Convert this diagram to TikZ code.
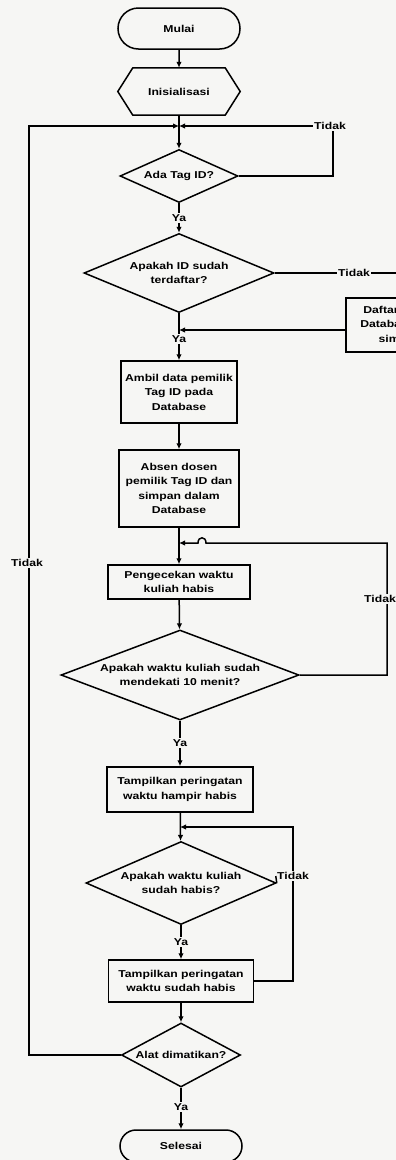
\documentclass[tikz,border=0pt]{standalone}
\usepackage{fontspec}
\setmainfont[FakeStretch=1.22]{Liberation Sans}
\usetikzlibrary{shapes.geometric,shapes.misc,arrows.meta}
\definecolor{paper}{HTML}{F6F6F4}
\begin{document}
\begin{tikzpicture}[x=1pt,y=-1pt,
  every node/.style={font=\fontsize{10}{14.5}\selectfont\bfseries, align=center, inner sep=0pt},
  line/.style={line width=1.5pt},
  arr/.style={line width=1.5pt, -{Latex[length=6pt,width=5.5pt]}},
  proc/.style={draw, line width=1.5pt, rectangle},
  term/.style={draw, line width=1.5pt, rounded rectangle, minimum width=122pt},
  dec/.style={draw, line width=1.5pt, diamond},
  lbl/.style={fill=paper, inner sep=1.2pt}]
\useasboundingbox (0,0) rectangle (396,1160);
\clip (0,0) rectangle (396,1160);
\fill[paper] (0,0) rectangle (396,1160);

% nodes
\node[term, minimum height=41pt] (mulai) at (179,28.5) {Mulai};
\node[minimum width=122pt, minimum height=47pt] (ini) at (179,91.5) {Inisialisasi};
\draw[line] (ini.west) -- ([xshift=15pt]ini.north west) -- ([xshift=-15pt]ini.north east)
  -- (ini.east) -- ([xshift=-15pt]ini.south east) -- ([xshift=15pt]ini.south west) -- cycle;
\coordinate (j1) at (179,126);
\node[dec, minimum width=118pt, minimum height=53pt, aspect=2.23] (d1) at (179,176) {Ada Tag ID?};
\node[dec, minimum width=190pt, minimum height=79pt, aspect=2.4] (d2) at (179,273) {Apakah ID sudah\\terdaftar?};
\node[proc, minimum width=108pt, minimum height=54pt] (daftar) at (400,325) {Daftarkan ke\\Database dan\\simpan};
\coordinate (j2) at (179,330);
\node[proc, minimum width=116pt, minimum height=62pt] (b1) at (179,392) {Ambil data pemilik\\Tag ID pada\\Database};
\node[proc, minimum width=120pt, minimum height=77pt] (b2) at (179,488.5) {Absen dosen\\pemilik Tag ID dan\\simpan dalam\\Database};
\coordinate (j3) at (179,543);
\node[proc, minimum width=142pt, minimum height=34pt] (b3) at (179,582) {Pengecekan waktu\\kuliah habis};
\node[dec, minimum width=238pt, minimum height=90pt, aspect=2.64] (d3) at (180,675) {Apakah waktu kuliah sudah\\mendekati 10 menit?};
\node[proc, minimum width=146pt, minimum height=45pt] (b4) at (180,789.5) {Tampilkan peringatan\\waktu hampir habis};
\coordinate (j4) at (180,827);
\node[dec, minimum width=190pt, minimum height=83pt, aspect=2.29] (d4) at (181,883) {Apakah waktu kuliah\\sudah habis?};
\node[proc, minimum width=145pt, minimum height=42pt] (b5) at (181,981) {Tampilkan peringatan\\waktu sudah habis};
\node[dec, minimum width=119pt, minimum height=64pt, aspect=1.86] (d5) at (181,1055) {Alat dimatikan?};
\node[term, minimum height=32pt] (sel) at (181,1146) {Selesai};

% connectors
\draw[arr] (mulai) -- (ini);
\draw[line] (ini) -- (j1);
\draw[arr] (j1) -- (d1);
\draw[arr] (d5.west) -- (29,1055) -- (29,126) -- (j1);
\draw[arr] (d1.east) -| (333,126) -- (j1);
\draw[arr] (d1) -- (d2);
\draw[arr] (d2.east) -| (daftar.north);
\draw[arr] (daftar.west |- j2) -- (j2);
\draw[arr] (d2) -- (b1);
\draw[arr] (b1) -- (b2);
\draw[arr] (b2) -- (b3);
\draw[arr] (d3.east) -- (387,675) -- (387,543) -- (206,543)
  .. controls (206,536) and (198,536) .. (198,543) -- (j3);
\draw[arr] (b3) -- (d3);
\draw[arr] (d3) -- (b4);
\draw[arr] (b4) -- (d4);
\draw[arr] (b5.east) -- (293,981) -- (293,827) -- (j4);
\draw[arr] (d4) -- (b5);
\draw[arr] (b5) -- (d5);
\draw[arr] (d5) -- (sel);

% labels
\node[lbl] (t0) at (27,563) {Tidak};
\node[lbl] (t1) at (330,126) {Tidak};
\node[lbl] (y1) at (179,218) {Ya};
\node[lbl] (t2) at (354,273) {Tidak};
\node[lbl] (y2) at (179,339) {Ya};
\node[lbl] (t3) at (380,599) {Tidak};
\node[lbl] (y3) at (180,743) {Ya};
\node[lbl] (t4) at (293,876) {Tidak};
\draw[line] (d4.east) -- (t4.west);
\node[lbl] (y4) at (181,942) {Ya};
\node[lbl] (y5) at (181,1107) {Ya};
\end{tikzpicture}
\end{document}
